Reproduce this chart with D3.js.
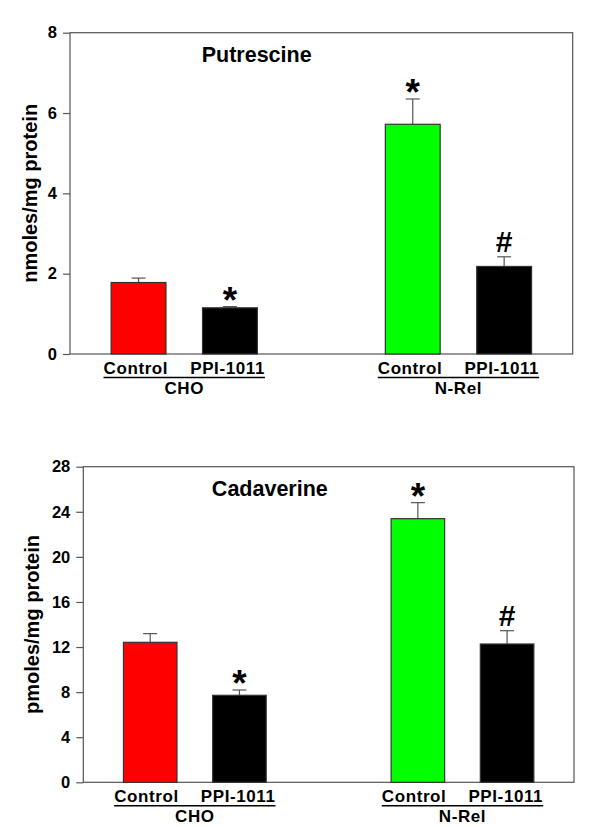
<!DOCTYPE html>
<html>
  <head>
    <meta charset="UTF-8">
    <title>Putrescine and Cadaverine</title>
    <script src="https://d3js.org/d3.v7.min.js"></script>
    <style>
      body { margin: 0; background: #fff; }
      text { font-family: "Liberation Sans", Arial, sans-serif; font-weight: bold; fill: #000; }
    </style>
  </head>
  <body>
    <div id="chart"></div>
    <script>
      // groups and treatments on the x axis
      const groups = ["CHO", "N-Rel"];
      const treatments = ["Control", "PPI-1011"];

      // values (order: CHO Control, CHO PPI, N-Rel Control, N-Rel PPI)
      const putrescineMean = [1.78, 1.15, 5.72, 2.18];
      const putrescineErr = [0.11, 0.03, 0.63, 0.24];
      const cadaverineMean = [12.42, 7.72, 23.39, 12.27];
      const cadaverineErr = [0.77, 0.47, 1.42, 1.18];

      // significance marks
      const marks = ["", "*", "*", "#"];

      // y ticks
      const putrescineTicks = [0, 2, 4, 6, 8];
      const cadaverineTicks = [0, 4, 8, 12, 16, 20, 24, 28];

      const barColors = ["#ff0000", "#000000", "#00ff00", "#000000"];

      const svg = d3.select("#chart")
        .append("svg")
        .attr("width", 600)
        .attr("height", 827);

      function drawPanel(p) {
        const g = svg.append("g");
        const W = p.right - p.left;

        const x0 = d3.scaleBand().domain(groups)
          .range([p.left, p.right])
          .paddingInner(1 / 3)
          .paddingOuter(1 / 12);
        const x1 = d3.scaleBand().domain(treatments)
          .range([0, x0.bandwidth()])
          .paddingInner(0.4)
          .paddingOuter(0.2);
        const y = d3.scaleLinear()
          .domain([0, d3.max(p.ticks)])
          .range([p.bottom, p.top]);

        const data = [];
        groups.forEach((grp, gi) => {
          treatments.forEach((t, ti) => {
            const i = gi * treatments.length + ti;
            data.push({group: grp, treat: t, mean: p.means[i], err: p.errs[i], mark: marks[i], color: barColors[i]});
          });
        });

        // frame
        g.append("rect")
          .attr("x", p.left)
          .attr("y", p.top)
          .attr("width", W)
          .attr("height", p.bottom - p.top)
          .attr("fill", "none")
          .attr("stroke", "#555")
          .attr("stroke-width", 1.2);

        // y axis
        const ax = g.append("g")
          .attr("transform", `translate(${p.left},0)`)
          .call(d3.axisLeft(y).tickValues(p.ticks).tickSize(7).tickPadding(6));
        ax.select(".domain").remove();
        ax.selectAll(".tick line").attr("stroke", "#555").attr("stroke-width", 1.2);
        ax.selectAll(".tick text")
          .attr("font-size", 16.5)
          .attr("font-family", "Liberation Sans, Arial, sans-serif")
          .attr("font-weight", "bold")
          .attr("fill", "#000");

        // y label
        g.append("text")
          .attr("transform", "rotate(-90)")
          .attr("x", -(p.top + p.bottom) / 2)
          .attr("y", p.labelX)
          .attr("text-anchor", "middle")
          .attr("font-size", 20)
          .text(p.yLabel);

        // title
        g.append("text")
          .attr("x", p.left + W * 0.262)
          .attr("y", p.top + 29)
          .attr("font-size", 21.5)
          .text(p.title);

        const cx = d => x0(d.group) + x1(d.treat) + x1.bandwidth() / 2;

        // error bars (upper only)
        g.selectAll(".err")
          .data(data)
          .join("line")
          .attr("x1", cx).attr("x2", cx)
          .attr("y1", d => y(d.mean))
          .attr("y2", d => y(d.mean + d.err))
          .attr("stroke", "#555")
          .attr("stroke-width", 1.2);
        g.selectAll(".cap")
          .data(data)
          .join("line")
          .attr("x1", d => cx(d) - 7).attr("x2", d => cx(d) + 7)
          .attr("y1", d => y(d.mean + d.err))
          .attr("y2", d => y(d.mean + d.err))
          .attr("stroke", "#555")
          .attr("stroke-width", 1.2);

        // bars
        g.selectAll(".bar")
          .data(data)
          .join("rect")
          .attr("x", d => x0(d.group) + x1(d.treat))
          .attr("y", d => y(d.mean))
          .attr("width", x1.bandwidth())
          .attr("height", d => y(0) - y(d.mean))
          .attr("fill", d => d.color)
          .attr("stroke", "#333")
          .attr("stroke-width", 1.2);

        // significance marks
        g.selectAll(".mark")
          .data(data.filter(d => d.mark))
          .join("text")
          .attr("x", cx)
          .attr("y", d => y(d.mean + d.err) + (d.mark === "*" ? 6 : -5))
          .attr("text-anchor", "middle")
          .attr("font-size", d => d.mark === "*" ? 37 : 30)
          .text(d => d.mark);

        // group labels
        groups.forEach(grp => {
          const gc = x0(grp) + x0.bandwidth() / 2;
          const lab = g.append("text")
            .attr("x", gc)
            .attr("y", p.bottom + 19.5)
            .attr("text-anchor", "middle")
            .attr("font-size", 17)
            .style("letter-spacing", "0.6px");
          lab.append("tspan").text(treatments[0]);
          lab.append("tspan").attr("dx", 22).text(treatments[1]);
          const bb = lab.node().getBBox();
          g.append("line")
            .attr("x1", bb.x).attr("x2", bb.x + bb.width)
            .attr("y1", p.bottom + 23.5).attr("y2", p.bottom + 23.5)
            .attr("stroke", "#000")
            .attr("stroke-width", 1.5);
          g.append("text")
            .attr("x", gc)
            .attr("y", p.bottom + 39.5)
            .attr("text-anchor", "middle")
            .attr("font-size", 17)
            .style("letter-spacing", "0.6px")
            .text(grp);
        });
      }

      drawPanel({
        title: "Putrescine", yLabel: "nmoles/mg protein",
        means: putrescineMean, errs: putrescineErr, ticks: putrescineTicks,
        left: 70, right: 572.7, top: 32.7, bottom: 354, labelX: 37
      });
      drawPanel({
        title: "Cadaverine", yLabel: "pmoles/mg protein",
        means: cadaverineMean, errs: cadaverineErr, ticks: cadaverineTicks,
        left: 83.3, right: 574, top: 466.7, bottom: 782.3, labelX: 39
      });
    </script>
  </body>
</html>
